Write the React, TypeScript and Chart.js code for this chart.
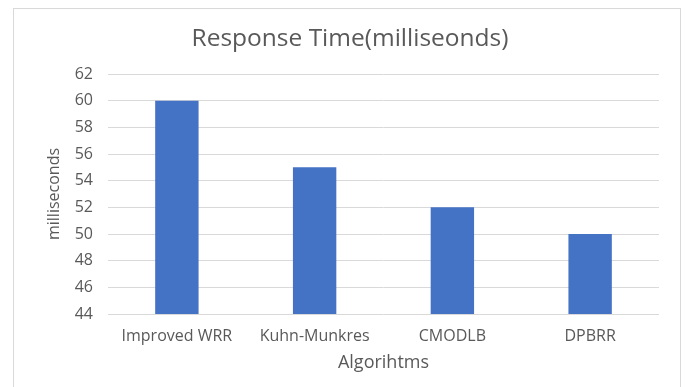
import React, { useEffect, useRef } from "react";
import { Chart, registerables } from "chart.js";

Chart.register(...registerables);

const categories = ["Improved WRR", "Kuhn-Munkres", "CMODLB", "DPBRR"];
const responseTimes = [60, 55, 52, 50];
const yMin = 44;
const yMax = 62;
const yStep = 2;
const chartTitle = "Response Time(milliseonds)";
const xTitle = "Algorihtms";
const yTitle = "milliseconds";

const FONT = "'Open Sans', 'Noto Sans', sans-serif";
const TEXT = "#595959";
const GRID = "#d9d9d9";

export default function App() {
  const ref = useRef<HTMLCanvasElement | null>(null);
  useEffect(() => {
    document.body.style.margin = "0";
    if (!ref.current) return;
    const chart = new Chart(ref.current, {
      type: "bar",
      data: {
        labels: categories,
        datasets: [
          {
            label: "Response Time",
            data: responseTimes,
            backgroundColor: "#4472C4",
            barPercentage: 0.315,
            categoryPercentage: 1,
          },
        ],
      },
      options: {
        animation: false,
        responsive: false,
        maintainAspectRatio: false,
        layout: { padding: { left: 41, right: 27, top: 0, bottom: 0 } },
        plugins: {
          legend: { display: false },
          tooltip: { enabled: false },
          title: {
            display: true,
            text: chartTitle,
            color: TEXT,
            font: { family: FONT, size: 24.5, weight: "normal" },
            padding: { top: 24, bottom: 20.6 },
          },
        },
        scales: {
          x: {
            grid: { display: false, drawTicks: false },
            border: { display: false },
            ticks: {
              color: TEXT,
              font: { family: FONT, size: 16 },
              padding: 13,
              maxRotation: 0,
              autoSkip: false,
            },
            title: {
              display: true,
              text: xTitle,
              color: TEXT,
              font: { family: FONT, size: 18 },
              padding: { top: 4, bottom: 13 },
            },
            afterFit: (scale: any) => {
              scale.height = 73;
            },
          },
          y: {
            min: yMin,
            max: yMax,
            grid: { color: GRID, lineWidth: 1, drawTicks: false },
            border: { display: false },
            ticks: {
              stepSize: yStep,
              color: TEXT,
              font: { family: FONT, size: 16 },
              padding: 15,
            },
            title: {
              display: true,
              text: yTitle,
              color: TEXT,
              font: { family: FONT, size: 16 },
              padding: { top: 4, bottom: 0 },
            },
            afterFit: (scale: any) => {
              scale.width = 67;
            },
          },
        },
      },
    });
    return () => chart.destroy();
  }, []);
  return (
    <div style={{ position: "relative", width: 686, height: 387, background: "#fff", overflow: "hidden" }}>
      <div
        style={{
          position: "absolute",
          left: 13,
          top: 8,
          width: 668,
          height: 400,
          border: "1px solid #d9d9d9",
          boxSizing: "border-box",
        }}
      />
      <canvas ref={ref} width={686} height={387} style={{ position: "absolute", left: 0, top: 0, display: "block" }} />
    </div>
  );
}
